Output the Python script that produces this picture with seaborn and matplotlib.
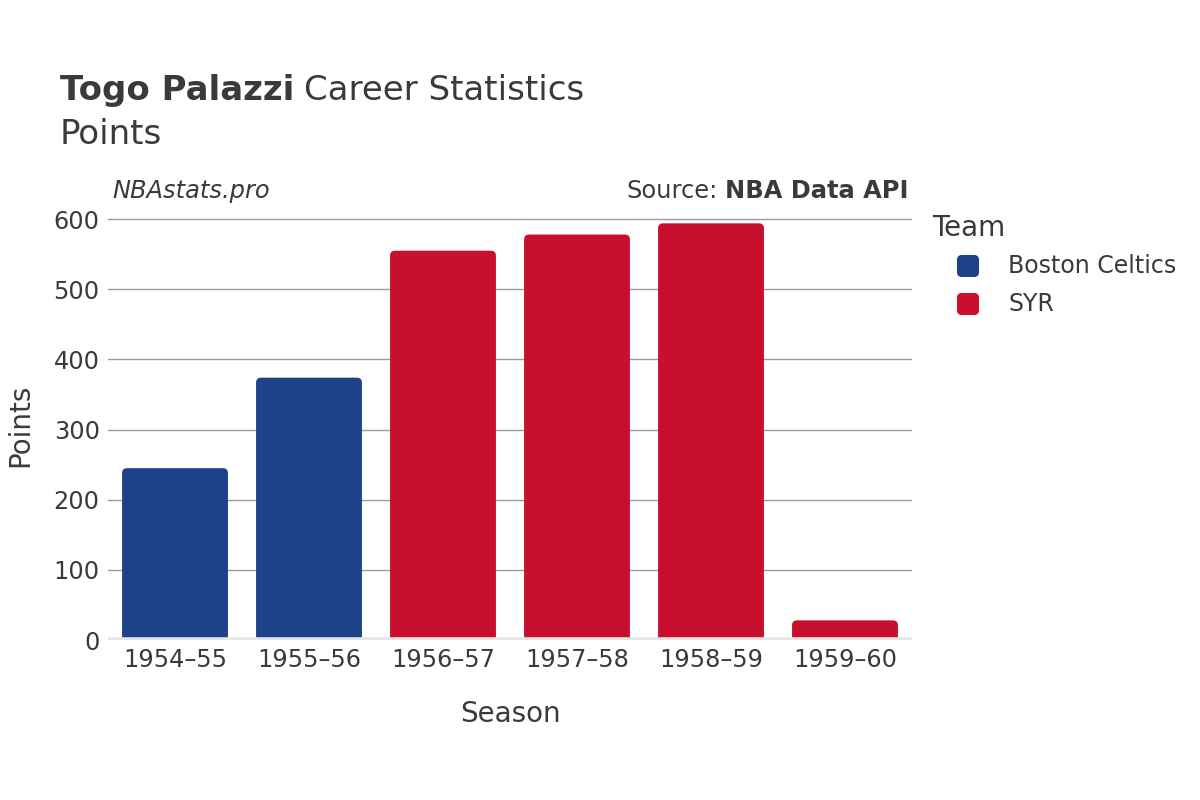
import pandas as pd
import seaborn as sns
import matplotlib.pyplot as plt
from matplotlib.patches import FancyBboxPatch

# data
seasons = ["1954–55", "1955–56", "1956–57", "1957–58", "1958–59", "1959–60"]
teams = ["Boston Celtics", "Boston Celtics", "SYR", "SYR", "SYR", "SYR"]
points = [245, 374, 555, 578, 594, 28]
team_colors = {"Boston Celtics": "#1d428a", "SYR": "#c8102e"}

df = pd.DataFrame({"Season": seasons, "Team": teams, "Points": points})

sns.set_style("white")
plt.rcParams["font.family"] = ["DejaVu Sans"]
text_col = "#3a3a3a"

fig = plt.figure(figsize=(12, 8), dpi=100)
ax = fig.add_axes([0.09, 0.2, 0.67, 0.5375])

sns.barplot(data=df, x="Season", y="Points", hue="Team", palette=team_colors,
            dodge=False, width=0.79, order=seasons, saturation=1, ax=ax,
            legend=False)

# swap plain bars for ones with slightly rounded corners
ax.set_ylim(0, 613)
bars = [p for p in ax.patches if p.get_height() > 0]
for p in bars:
    x, w, h = p.get_x(), p.get_width(), p.get_height()
    fc = p.get_facecolor()
    p.remove()
    rb = FancyBboxPatch((x, -20), w, h + 20,
                        boxstyle="round,pad=0,rounding_size=0.037",
                        mutation_aspect=191, facecolor=fc, edgecolor="none",
                        zorder=2)
    ax.add_patch(rb)

ax.set_xlim(-0.5, len(seasons) - 0.5)
ax.set_yticks(range(0, 601, 100))
ax.yaxis.grid(True, color="#9a9a9a", linewidth=1)
ax.set_axisbelow(True)
ax.axhline(0, color="#e6e6e6", linewidth=4, zorder=3)
for s in ax.spines.values():
    s.set_visible(False)
ax.tick_params(axis="both", length=0, labelsize=17.3, labelcolor=text_col, pad=6)
ax.set_xlabel("Season", fontsize=20, color=text_col, labelpad=20)
ax.set_ylabel("Points", fontsize=20, color=text_col, labelpad=14)

# title: bold name followed by regular text
t1 = fig.text(0.05, 0.875, "Togo Palazzi", fontsize=24.5, fontweight="bold",
              color=text_col, va="baseline")
fig.canvas.draw()
bb = t1.get_window_extent()
fig.text(bb.x1 / 1200 + 0.008, 0.875, "Career Statistics", fontsize=24.5,
         color=text_col, va="baseline")
fig.text(0.05, 0.82, "Points", fontsize=24.5, color=text_col, va="baseline")

fig.text(0.094, 0.752, "NBAstats.pro", fontsize=17.4, style="italic",
         color=text_col, va="baseline")
t2 = fig.text(0.757, 0.752, "NBA Data API", fontsize=17.4, fontweight="bold",
              color=text_col, va="baseline", ha="right")
fig.canvas.draw()
bb2 = t2.get_window_extent()
fig.text(bb2.x0 / 1200 - 0.006, 0.752, "Source:", fontsize=17.4,
         color=text_col, va="baseline", ha="right")

# legend drawn by hand to match the indented rounded markers
fig.text(932 / 1200, 1 - 236 / 800, "Team", fontsize=20, color=text_col,
         va="baseline")
for i, (name, col) in enumerate(team_colors.items()):
    yc = 1 - (266 + 38 * i) / 800
    fig.patches.append(FancyBboxPatch((957 / 1200, yc - 11 / 800), 22 / 1200, 22 / 800,
                                      boxstyle="round,pad=0,rounding_size=0.004",
                                      mutation_aspect=1.5,
                                      transform=fig.transFigure,
                                      facecolor=col, edgecolor="none"))
    fig.text(1008 / 1200, yc, name, fontsize=17, color=text_col, va="center")

fig.savefig("out.png", dpi=100)
